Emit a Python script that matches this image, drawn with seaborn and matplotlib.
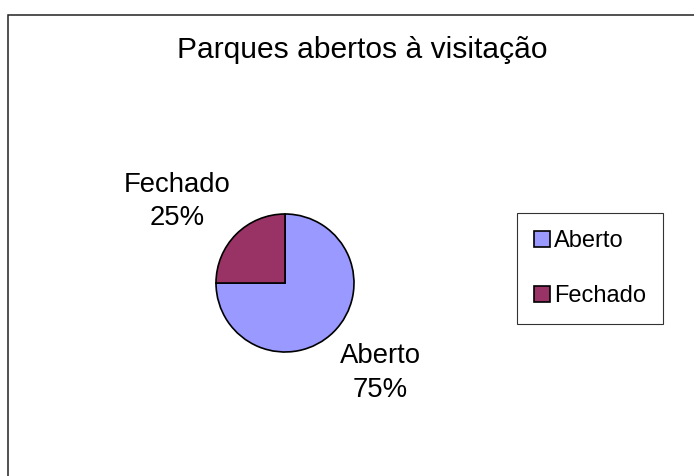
import numpy as np
import matplotlib
matplotlib.use("Agg")
import matplotlib.pyplot as plt
import seaborn as sns
from matplotlib.patches import Rectangle

# data
categories = ["Aberto", "Fechado"]
shares = [75, 25]
colors = ["#9999FF", "#993366"]
title = "Parques abertos à visitação"

sns.set_theme(style="white")
plt.rcParams["font.family"] = ["Liberation Sans", "DejaVu Sans"]
plt.rcParams["text.color"] = "black"

W, H = 694, 476
fig = plt.figure(figsize=(W / 100, H / 100), dpi=100)
fig.patch.set_facecolor("white")

# outer chart border (runs off the right and bottom edges)
fig.patches.append(Rectangle((8 / W, -0.05), 1.2, 1 - 15 / H + 0.05,
                             transform=fig.transFigure, fill=False,
                             edgecolor="#222222", linewidth=1.1))

# pie axes: centre at (285, 283) px, radius ~69 px
L = 2.5
side = 345
ax = fig.add_axes([(285 - side / 2) / W, (H - 283 - side / 2) / H, side / W, side / H])
pal = sns.color_palette(colors)
wedges, texts = ax.pie(shares, colors=pal, startangle=90, counterclock=False,
                       labels=[f"{c}\n{v}%" for c, v in zip(categories, shares)],
                       labeldistance=1.9,
                       wedgeprops=dict(edgecolor="black", linewidth=1.2),
                       textprops=dict(fontsize=19.8, color="black", ha="center",
                                      va="center", linespacing=1.38))
ax.set_xlim(-L, L)
ax.set_ylim(-L, L)
ax.set_aspect("equal")
ax.axis("off")

# nudge the data labels the way the original layout places them
for t in texts:
    x, y = t.get_position()
    if x < 0:
        t.set_position((x * 1.166, y * 0.88))
    else:
        t.set_position((x * 1.025, y * 0.97))

fig.text(362 / W, 1 - 50 / H, title, ha="center", va="center", fontsize=21.6, color="black")

leg = ax.legend(wedges, categories, loc="upper left",
                bbox_to_anchor=(517 / W, 1 - 213 / H), bbox_transform=fig.transFigure,
                fontsize=17.0, frameon=True, fancybox=False, edgecolor="black",
                handlelength=0.66, handleheight=0.66, handletextpad=0.2,
                labelspacing=1.4, borderpad=0.72, borderaxespad=0)
leg.get_frame().set_linewidth(0.8)

fig.savefig("out.png", dpi=100, facecolor="white")
